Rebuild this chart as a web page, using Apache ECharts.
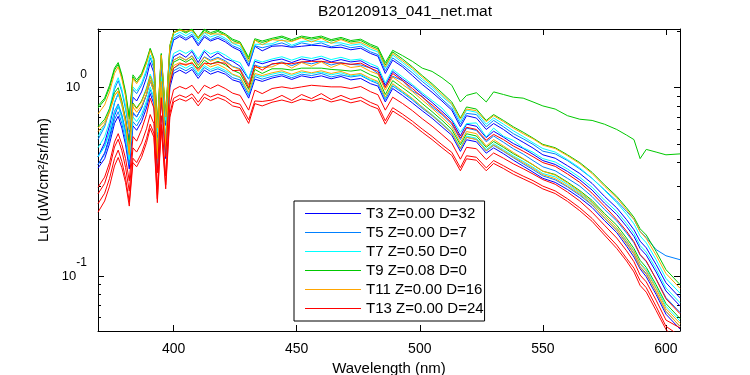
<!DOCTYPE html>
<html>
<head>
<meta charset="utf-8">
<title>B20120913_041_net.mat</title>
<script src="https://cdn.jsdelivr.net/npm/echarts@6/dist/echarts.min.js"></script>
<style>
html, body { margin: 0; padding: 0; background: #fff; }
#chart { width: 750px; height: 375px; }
</style>
</head>
<body>
<div id="chart"></div>
<script>
const FONT = '"Liberation Sans", Arial, Helvetica, sans-serif'

// wavelength grid (nm)
const wl = [369.3, 372, 374, 376, 377.5, 379, 380.5, 382, 383.5, 385,
    387, 389, 390.5, 392, 393.4, 395, 396.8, 398.5, 400, 402.5,
    405, 407.5, 410, 412.5, 415, 418, 421, 424, 427, 430.5,
    433, 436, 440, 444, 448, 452, 456, 460, 464, 468,
    472, 476, 480, 483, 486, 489, 493, 497, 501, 505,
    509, 513, 516.5, 519, 523, 527, 530, 534, 538, 542,
    546, 550, 555, 560, 565, 570, 575, 580, 584, 587,
    589.5, 592, 596, 600, 605.7]

// T3 (blue)
const t3a = [0.43, 0.51, 0.63, 0.83, 0.93, 0.82, 0.68, 0.52, 0.89, 0.85,
    0.95, 1.13, 1.36, 1.20, 0.54, 1.32, 0.63, 1.51, 1.79, 1.87,
    1.79, 1.88, 1.67, 1.86, 1.77, 1.83, 1.75, 1.64, 1.57, 1.30,
    1.66, 1.57, 1.66, 1.67, 1.64, 1.66, 1.68, 1.67, 1.63, 1.64,
    1.59, 1.62, 1.52, 1.47, 1.19, 1.40, 1.29, 1.16, 1.04, 0.945,
    0.85, 0.76, 0.62, 0.71, 0.69, 0.60, 0.645, 0.60, 0.55, 0.513,
    0.478, 0.44, 0.422, 0.385, 0.35, 0.31, 0.265, 0.23, 0.199, 0.176,
    0.153, 0.141, 0.115, 0.092, 0.0765]
const t3b = [0.39, 0.45, 0.55, 0.71, 0.80, 0.70, 0.57, 0.43, 0.73, 0.70,
    0.78, 0.92, 1.09, 0.97, 0.43, 1.07, 0.51, 1.23, 1.46, 1.52,
    1.45, 1.56, 1.36, 1.56, 1.44, 1.53, 1.43, 1.38, 1.30, 1.11,
    1.38, 1.34, 1.39, 1.42, 1.36, 1.42, 1.39, 1.43, 1.37, 1.41,
    1.37, 1.39, 1.30, 1.26, 1.03, 1.22, 1.11, 1.02, 0.92, 0.835,
    0.75, 0.67, 0.555, 0.64, 0.624, 0.543, 0.587, 0.546, 0.505, 0.476,
    0.443, 0.41, 0.391, 0.359, 0.324, 0.286, 0.244, 0.212, 0.183, 0.162,
    0.14, 0.129, 0.105, 0.0832, 0.0693]
const t3c = [0.374, 0.42, 0.505, 0.645, 0.705, 0.61, 0.497, 0.37, 0.627, 0.594,
    0.66, 0.78, 0.93, 0.82, 0.366, 0.89, 0.42, 1.00, 1.19, 1.24,
    1.19, 1.25, 1.12, 1.24, 1.18, 1.22, 1.18, 1.10, 1.07, 0.88,
    1.11, 1.08, 1.125, 1.156, 1.106, 1.156, 1.13, 1.156, 1.115, 1.147,
    1.10, 1.12, 1.05, 1.02, 0.84, 0.99, 0.91, 0.83, 0.754, 0.688,
    0.62, 0.559, 0.459, 0.529, 0.516, 0.449, 0.479, 0.446, 0.412, 0.383,
    0.356, 0.33, 0.314, 0.288, 0.26, 0.231, 0.197, 0.17, 0.144, 0.126,
    0.109, 0.099, 0.0797, 0.0626, 0.0522]

// T5 (azure)
const t5a = [0.53, 0.62, 0.76, 0.98, 1.09, 0.95, 0.77, 0.58, 0.98, 0.93,
    1.03, 1.21, 1.44, 1.27, 0.56, 1.38, 0.65, 1.55, 1.83, 1.91,
    1.83, 1.92, 1.71, 1.90, 1.80, 1.87, 1.79, 1.67, 1.61, 1.33,
    1.67, 1.63, 1.68, 1.73, 1.65, 1.73, 1.69, 1.73, 1.65, 1.69,
    1.63, 1.66, 1.55, 1.50, 1.23, 1.44, 1.32, 1.20, 1.08, 0.98,
    0.87, 0.78, 0.64, 0.73, 0.72, 0.62, 0.67, 0.62, 0.57, 0.535,
    0.50, 0.46, 0.445, 0.41, 0.37, 0.33, 0.287, 0.25, 0.22, 0.20,
    0.172, 0.16, 0.138, 0.128, 0.122]
const t5b = [0.43, 0.49, 0.59, 0.75, 0.82, 0.72, 0.59, 0.44, 0.74, 0.70,
    0.78, 0.92, 1.09, 0.96, 0.43, 1.05, 0.50, 1.19, 1.40, 1.46,
    1.40, 1.48, 1.32, 1.46, 1.40, 1.45, 1.39, 1.30, 1.26, 1.04,
    1.32, 1.28, 1.33, 1.37, 1.31, 1.37, 1.34, 1.38, 1.32, 1.36,
    1.33, 1.32, 1.27, 1.19, 1.01, 1.15, 1.09, 0.96, 0.90, 0.79,
    0.72, 0.64, 0.53, 0.61, 0.593, 0.516, 0.554, 0.513, 0.474, 0.444,
    0.41, 0.38, 0.362, 0.33, 0.30, 0.264, 0.226, 0.196, 0.169, 0.15,
    0.129, 0.119, 0.0965, 0.0767, 0.064]
const t5c = [0.39, 0.443, 0.53, 0.676, 0.745, 0.644, 0.524, 0.39, 0.66, 0.626,
    0.696, 0.82, 0.976, 0.86, 0.384, 0.93, 0.438, 1.05, 1.23, 1.28,
    1.23, 1.285, 1.156, 1.28, 1.22, 1.26, 1.21, 1.13, 1.10, 0.91,
    1.146, 1.11, 1.15, 1.18, 1.13, 1.18, 1.16, 1.19, 1.14, 1.17,
    1.14, 1.16, 1.09, 1.05, 0.865, 1.02, 0.94, 0.86, 0.777, 0.71,
    0.64, 0.575, 0.473, 0.545, 0.531, 0.462, 0.493, 0.459, 0.425, 0.394,
    0.367, 0.34, 0.324, 0.297, 0.268, 0.238, 0.203, 0.175, 0.15, 0.131,
    0.112, 0.103, 0.0824, 0.0648, 0.054]

// T7 (cyan)
const t7a = [0.55, 0.64, 0.78, 1.02, 1.13, 0.98, 0.80, 0.60, 1.01, 0.96,
    1.06, 1.25, 1.49, 1.32, 0.58, 1.43, 0.67, 1.60, 1.89, 1.97,
    1.89, 1.98, 1.77, 1.96, 1.86, 1.92, 1.83, 1.72, 1.66, 1.37,
    1.70, 1.70, 1.71, 1.80, 1.68, 1.76, 1.77, 1.76, 1.73, 1.73,
    1.68, 1.71, 1.60, 1.55, 1.27, 1.49, 1.36, 1.24, 1.11, 1.01,
    0.90, 0.81, 0.66, 0.76, 0.74, 0.64, 0.69, 0.64, 0.59, 0.55,
    0.51, 0.475, 0.455, 0.415, 0.375, 0.33, 0.285, 0.245, 0.213, 0.189,
    0.163, 0.150, 0.122, 0.097, 0.081]
const t7b = [0.48, 0.55, 0.66, 0.84, 0.93, 0.80, 0.65, 0.49, 0.82, 0.78,
    0.85, 1.00, 1.18, 1.05, 0.47, 1.14, 0.54, 1.29, 1.52, 1.58,
    1.52, 1.59, 1.42, 1.59, 1.51, 1.56, 1.49, 1.40, 1.36, 1.12,
    1.41, 1.37, 1.42, 1.46, 1.40, 1.46, 1.43, 1.47, 1.41, 1.45,
    1.40, 1.42, 1.34, 1.29, 1.06, 1.25, 1.14, 1.04, 0.94, 0.856,
    0.78, 0.68, 0.58, 0.645, 0.65, 0.548, 0.61, 0.552, 0.525, 0.48,
    0.454, 0.42, 0.403, 0.37, 0.334, 0.296, 0.253, 0.22, 0.19, 0.168,
    0.145, 0.134, 0.109, 0.0864, 0.072]
const t7c = [0.43, 0.486, 0.575, 0.73, 0.80, 0.69, 0.56, 0.415, 0.70, 0.66,
    0.725, 0.85, 1.01, 0.89, 0.394, 0.96, 0.45, 1.07, 1.27, 1.32,
    1.27, 1.33, 1.18, 1.31, 1.25, 1.29, 1.235, 1.17, 1.13, 0.93,
    1.17, 1.14, 1.18, 1.21, 1.16, 1.21, 1.19, 1.21, 1.17, 1.20,
    1.155, 1.175, 1.10, 1.07, 0.88, 1.04, 0.95, 0.87, 0.79, 0.72,
    0.65, 0.58, 0.48, 0.553, 0.539, 0.469, 0.504, 0.469, 0.434, 0.406,
    0.378, 0.35, 0.336, 0.306, 0.276, 0.245, 0.209, 0.18, 0.154, 0.136,
    0.117, 0.108, 0.087, 0.069, 0.0576]

// T9 (green)
const t9a = [0.80, 0.88, 1.03, 1.27, 1.36, 1.17, 0.95, 0.70, 1.17, 1.10,
    1.19, 1.40, 1.62, 1.43, 0.64, 1.52, 0.72, 1.68, 1.97, 2.05,
    1.98, 2.05, 1.85, 2.05, 1.96, 2.02, 1.93, 1.81, 1.75, 1.45,
    1.82, 1.77, 1.83, 1.88, 1.80, 1.88, 1.84, 1.88, 1.80, 1.85,
    1.78, 1.81, 1.70, 1.64, 1.36, 1.58, 1.48, 1.38, 1.27, 1.22,
    1.13, 1.03, 0.84, 0.91, 0.94, 0.84, 0.95, 0.92, 0.89, 0.88,
    0.84, 0.80, 0.77, 0.71, 0.68, 0.67, 0.64, 0.60, 0.56, 0.53,
    0.42, 0.47, 0.455, 0.44, 0.445]
const t9b = [0.78, 0.86, 1.00, 1.24, 1.33, 1.14, 0.92, 0.68, 1.14, 1.07,
    1.17, 1.36, 1.60, 1.40, 0.62, 1.50, 0.70, 1.66, 1.95, 2.03,
    1.95, 2.04, 1.82, 2.02, 1.92, 1.99, 1.90, 1.78, 1.72, 1.42,
    1.79, 1.74, 1.80, 1.85, 1.77, 1.85, 1.81, 1.85, 1.77, 1.82,
    1.75, 1.78, 1.67, 1.61, 1.32, 1.55, 1.42, 1.29, 1.16, 1.05,
    0.94, 0.84, 0.69, 0.79, 0.77, 0.67, 0.72, 0.67, 0.62, 0.58,
    0.54, 0.50, 0.48, 0.44, 0.40, 0.355, 0.305, 0.265, 0.23, 0.205,
    0.178, 0.165, 0.135, 0.108, 0.090]
const t9c = [0.62, 0.68, 0.775, 0.94, 1.00, 0.85, 0.68, 0.50, 0.83, 0.78,
    0.85, 0.98, 1.15, 1.00, 0.443, 1.065, 0.49, 1.16, 1.365, 1.42,
    1.365, 1.43, 1.27, 1.40, 1.33, 1.38, 1.32, 1.24, 1.19, 0.98,
    1.25, 1.19, 1.26, 1.26, 1.24, 1.27, 1.27, 1.27, 1.25, 1.24,
    1.225, 1.245, 1.17, 1.13, 0.92, 1.09, 1.00, 0.916, 0.824, 0.746,
    0.672, 0.60, 0.497, 0.569, 0.554, 0.482, 0.518, 0.482, 0.446, 0.418,
    0.389, 0.36, 0.346, 0.315, 0.284, 0.252, 0.215, 0.186, 0.159, 0.14,
    0.121, 0.111, 0.0898, 0.0713, 0.0594]

// T11 (orange)
const t11a = [0.725, 0.81, 0.95, 1.19, 1.29, 1.11, 0.90, 0.60, 1.12, 1.05,
    1.15, 1.35, 1.58, 1.39, 0.61, 1.49, 0.70, 1.66, 1.96, 2.02,
    2.00, 2.01, 1.84, 1.97, 1.93, 1.93, 1.91, 1.73, 1.72, 1.38,
    1.79, 1.69, 1.80, 1.78, 1.76, 1.84, 1.75, 1.83, 1.72, 1.80,
    1.72, 1.74, 1.64, 1.58, 1.29, 1.52, 1.39, 1.27, 1.14, 1.03,
    0.92, 0.82, 0.68, 0.77, 0.755, 0.66, 0.71, 0.66, 0.61, 0.57,
    0.535, 0.495, 0.475, 0.435, 0.395, 0.35, 0.30, 0.26, 0.225, 0.20,
    0.172, 0.158, 0.129, 0.103, 0.086]
const t11b = [0.585, 0.64, 0.74, 0.905, 0.96, 0.82, 0.66, 0.45, 0.82, 0.77,
    0.84, 0.98, 1.15, 1.01, 0.446, 1.08, 0.504, 1.20, 1.40, 1.46,
    1.40, 1.47, 1.31, 1.45, 1.38, 1.43, 1.37, 1.29, 1.25, 1.03,
    1.28, 1.28, 1.29, 1.36, 1.27, 1.36, 1.30, 1.37, 1.28, 1.34,
    1.28, 1.30, 1.22, 1.18, 0.97, 1.14, 1.04, 0.955, 0.86, 0.777,
    0.696, 0.62, 0.51, 0.585, 0.57, 0.49, 0.53, 0.49, 0.453, 0.42,
    0.39, 0.36, 0.343, 0.312, 0.28, 0.247, 0.21, 0.18, 0.154, 0.135,
    0.116, 0.106, 0.0857, 0.067, 0.056]
const t11c = [0.61, 0.66, 0.75, 0.91, 0.96, 0.815, 0.65, 0.44, 0.79, 0.74,
    0.80, 0.925, 1.09, 0.95, 0.42, 1.01, 0.47, 1.11, 1.31, 1.36,
    1.31, 1.37, 1.22, 1.35, 1.29, 1.33, 1.27, 1.18, 1.14, 0.944,
    1.19, 1.16, 1.20, 1.23, 1.18, 1.23, 1.20, 1.23, 1.19, 1.22,
    1.17, 1.19, 1.12, 1.08, 0.89, 1.05, 0.96, 0.877, 0.79, 0.714,
    0.644, 0.575, 0.476, 0.545, 0.531, 0.462, 0.497, 0.462, 0.428, 0.40,
    0.373, 0.345, 0.329, 0.30, 0.272, 0.24, 0.203, 0.175, 0.148, 0.13,
    0.111, 0.102, 0.0824, 0.0648, 0.054]

// T13 (red)
const t13a = [0.296, 0.335, 0.40, 0.515, 0.57, 0.50, 0.42, 0.32, 0.55, 0.52,
    0.60, 0.72, 0.88, 0.78, 0.353, 0.885, 0.43, 1.05, 1.27, 1.34,
    1.33, 1.35, 1.25, 1.35, 1.34, 1.36, 1.35, 1.23, 1.24, 1.00,
    1.31, 1.24, 1.34, 1.35, 1.34, 1.37, 1.38, 1.38, 1.36, 1.35,
    1.33, 1.35, 1.27, 1.22, 1.00, 1.19, 1.09, 0.99, 0.89, 0.81,
    0.73, 0.65, 0.54, 0.616, 0.60, 0.526, 0.565, 0.53, 0.49, 0.46,
    0.43, 0.40, 0.382, 0.348, 0.314, 0.275, 0.235, 0.20, 0.173, 0.152,
    0.13, 0.12, 0.096, 0.0756, 0.063]
const t13b = [0.273, 0.31, 0.375, 0.484, 0.532, 0.462, 0.377, 0.282, 0.479, 0.455,
    0.509, 0.605, 0.72, 0.644, 0.288, 0.71, 0.34, 0.81, 0.975, 1.015,
    0.985, 1.03, 0.93, 1.03, 0.99, 1.035, 0.99, 0.935, 0.91, 0.76,
    0.97, 0.93, 0.99, 1.01, 0.99, 1.01, 1.03, 1.02, 1.01, 1.01,
    0.99, 1.015, 0.952, 0.918, 0.76, 0.89, 0.824, 0.755, 0.684, 0.625,
    0.564, 0.508, 0.417, 0.482, 0.474, 0.415, 0.45, 0.422, 0.394, 0.371,
    0.348, 0.325, 0.307, 0.279, 0.25, 0.218, 0.186, 0.159, 0.136, 0.119,
    0.101, 0.093, 0.0743, 0.0583, 0.053]
const t13c = [0.242, 0.275, 0.33, 0.42, 0.466, 0.405, 0.331, 0.248, 0.422, 0.40,
    0.45, 0.537, 0.64, 0.574, 0.257, 0.638, 0.305, 0.73, 0.878, 0.914,
    0.887, 0.928, 0.837, 0.929, 0.893, 0.925, 0.893, 0.837, 0.817, 0.675,
    0.85, 0.845, 0.86, 0.91, 0.855, 0.92, 0.875, 0.93, 0.865, 0.91,
    0.866, 0.89, 0.835, 0.805, 0.667, 0.783, 0.724, 0.664, 0.603, 0.551,
    0.498, 0.454, 0.376, 0.435, 0.427, 0.375, 0.41, 0.385, 0.36, 0.339,
    0.321, 0.30, 0.283, 0.257, 0.23, 0.202, 0.171, 0.146, 0.124, 0.11,
    0.0943, 0.0866, 0.0689, 0.054, 0.048]
const t13d = [0.218, 0.25, 0.30, 0.384, 0.426, 0.376, 0.313, 0.235, 0.40, 0.38,
    0.427, 0.51, 0.608, 0.546, 0.245, 0.608, 0.29, 0.697, 0.84, 0.873,
    0.848, 0.887, 0.80, 0.889, 0.854, 0.886, 0.855, 0.80, 0.783, 0.646,
    0.823, 0.80, 0.837, 0.86, 0.832, 0.87, 0.85, 0.879, 0.84, 0.865,
    0.831, 0.854, 0.80, 0.773, 0.64, 0.752, 0.696, 0.639, 0.58, 0.53,
    0.48, 0.437, 0.362, 0.419, 0.412, 0.362, 0.396, 0.372, 0.347, 0.328,
    0.31, 0.29, 0.274, 0.249, 0.222, 0.195, 0.165, 0.14, 0.12, 0.105,
    0.089, 0.082, 0.0655, 0.052, 0.043]

const xTicks = [400, 450, 500, 550, 600]
const yTicks = [0.1, 1]
const yMinorTicks = [0.06, 0.07, 0.08, 0.09, 0.2, 0.3, 0.4, 0.5, 0.6, 0.7, 0.8, 0.9, 2]

const groups = [
    {name: 'T3 Z=0.00 D=32', color: '#0000ff', lines: [t3a, t3b, t3c]},
    {name: 'T5 Z=0.00 D=7', color: '#0080ff', lines: [t5a, t5b, t5c]},
    {name: 'T7 Z=0.50 D=0', color: '#00ffff', lines: [t7a, t7b, t7c]},
    {name: 'T9 Z=0.08 D=0', color: '#00c800', lines: [t9a, t9b, t9c]},
    {name: 'T11 Z=0.00 D=16', color: '#ffa500', lines: [t11a, t11b, t11c]},
    {name: 'T13 Z=0.00 D=24', color: '#ff0000', lines: [t13a, t13b, t13c, t13d]},
]

function toPairs(vals) {
    return wl.map((w, i) => [w, vals[i]])
}

let series = []
groups.forEach(g => {
    g.lines.forEach(vals => {
        series.push({
            name: g.name,
            type: 'line',
            data: toPairs(vals),
            symbol: 'none',
            showSymbol: false,
            silent: true,
            lineStyle: {color: g.color, width: 1},
            itemStyle: {color: g.color},
            xAxisIndex: 0,
            yAxisIndex: 0,
        })
    })
})

const black = {color: '#000', width: 1}

function xAxis(position, withLabels) {
    return {
        type: 'value', min: 369.3, max: 605.7, position: position,
        axisLine: {show: true, onZero: false, lineStyle: black},
        axisTick: {show: true, inside: true, length: 6, customValues: xTicks, lineStyle: black},
        axisLabel: {
            show: withLabels, customValues: xTicks, margin: 11,
            color: '#000', fontFamily: FONT, fontSize: 14,
        },
        splitLine: {show: false},
    }
}

function yAxis(position, ticks, len, withLine) {
    return {
        type: 'log', logBase: 10, min: 0.051, max: 2.05, position: position,
        axisLine: {show: withLine, onZero: false, lineStyle: black},
        axisTick: {show: true, inside: true, length: len, customValues: ticks, lineStyle: black},
        axisLabel: {show: false},
        splitLine: {show: false},
        minorTick: {show: false},
    }
}

let xMain = xAxis('bottom', true)
xMain.name = 'Wavelength (nm)'
xMain.nameLocation = 'middle'
xMain.nameGap = 29
xMain.nameTextStyle = {color: '#000', fontFamily: FONT, fontSize: 15}

let yMain = yAxis('left', yTicks, 6, true)
yMain.axisLabel = {
    show: true, customValues: yTicks, margin: 11,
    formatter: v => '{b|10}{s|' + Math.round(Math.log10(v)) + '}',
    rich: {
        b: {fontFamily: FONT, fontSize: 13, color: '#000'},
        s: {fontFamily: FONT, fontSize: 12, color: '#000', padding: [0, 0, 26, 0]},
    },
}
yMain.name = 'Lu (uW/cm²/sr/nm)'
yMain.nameLocation = 'middle'
yMain.nameGap = 39
yMain.nameTextStyle = {color: '#000', fontFamily: FONT, fontSize: 15}

let chart = echarts.init(document.getElementById('chart'))
chart.setOption({
    animation: false,
    backgroundColor: '#fff',
    title: {
        text: 'B20120913_041_net.mat',
        left: 405, top: 4, padding: 0, textAlign: 'center',
        textStyle: {color: '#000', fontFamily: FONT, fontSize: 15.5, fontWeight: 'normal'},
    },
    legend: {
        orient: 'vertical', left: 294, top: 201,
        icon: 'rect', itemWidth: 56, itemHeight: 1, itemGap: 4,
        padding: [5, 1, 5, 11],
        backgroundColor: '#fff', borderColor: '#000', borderWidth: 1, borderRadius: 0,
        selectedMode: false,
        textStyle: {color: '#000', fontFamily: FONT, fontSize: 15},
    },
    grid: {left: 98, right: 70, top: 29, bottom: 44, containLabel: false, outerBoundsMode: 'none'},
    xAxis: [xMain, xAxis('top', false)],
    yAxis: [
        yMain,
        yAxis('left', yMinorTicks, 3, false),
        yAxis('right', yTicks, 6, true),
        yAxis('right', yMinorTicks, 3, false),
    ],
    series: series,
})
</script>
</body>
</html>
